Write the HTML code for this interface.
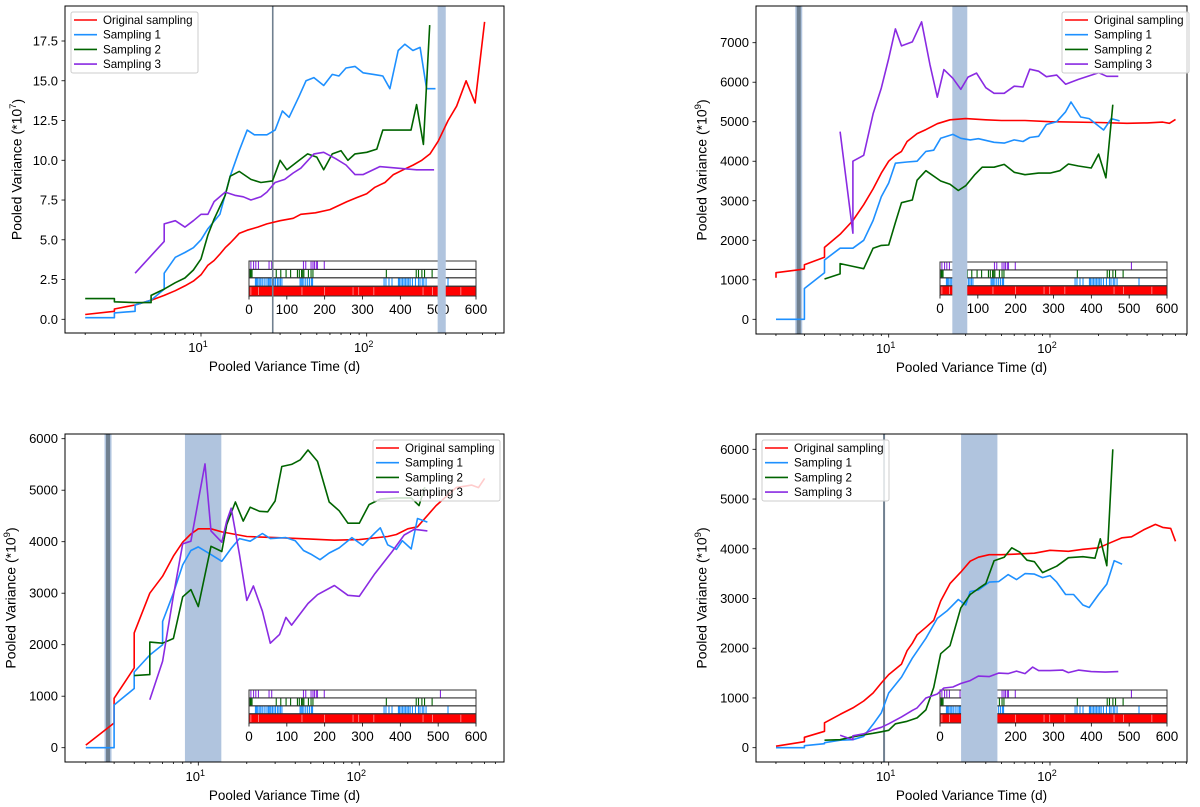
<!DOCTYPE html>
<html><head><meta charset="utf-8"><style>
html,body{margin:0;padding:0;background:#fff;}
svg{display:block;font-family:"Liberation Sans","DejaVu Sans",sans-serif;}
</style></head><body>
<svg id="fig" width="1200" height="807" viewBox="0 0 1200 807" xmlns="http://www.w3.org/2000/svg"></svg>
<script>
// ---- data (time in days, variance) ----
const p1Red=[[2,0.3],[3,0.5],[3,0.65],[4,0.9],[5,1.2],[6,1.5],[7,1.8],[8,2.1],[9,2.4],[10,2.8],[11,3.4],[12,3.7],[13,4.1],[14,4.5],[15,4.8],[16,5.1],[17,5.4],[19,5.6],[22,5.8],[25,6.0],[30,6.2],[36,6.35],[40,6.6],[49,6.7],[60,6.9],[76,7.4],[87,7.65],[100,7.9],[112,8.3],[129,8.6],[145,9.1],[166,9.4],[191,9.7],[215,10.0],[241,10.4],[270,11.2],[310,12.5],[349,13.4],[398,15.0],[451,13.6],[515,18.7]];
const p1Blue=[[2,0.1],[3,0.1],[3,0.4],[4,0.5],[4,0.9],[5,1.2],[6,1.9],[6,2.9],[7,3.9],[8,4.2],[9,4.5],[10,5.0],[11,5.7],[13,6.6],[15,9.0],[17,10.6],[19,11.9],[21,11.6],[25,11.6],[28,11.9],[31,13.1],[34,12.7],[39,14.0],[43,15.0],[48,15.2],[55,14.7],[62,15.4],[68,15.3],[75,15.8],[85,15.9],[95,15.5],[110,15.4],[125,15.3],[138,14.5],[155,16.9],[170,17.3],[190,16.9],[210,17.1],[230,14.5],[260,14.5]];
const p1Green=[[2,1.3],[3,1.3],[3,1.1],[4,1.05],[5,1.05],[5,1.5],[6,1.9],[7,2.3],[8,2.6],[9,3.1],[10,3.8],[11,5.3],[12,6.3],[14,7.8],[15,9.0],[17,9.3],[20,8.8],[23,8.6],[27,8.7],[30,10.0],[33,9.4],[38,9.9],[44,10.4],[50,10.2],[55,9.4],[62,10.4],[70,10.6],[77,10.0],[85,10.4],[100,10.5],[115,10.7],[125,11.9],[185,11.9],[200,13.5],[220,11.0],[240,18.5]];
const p1Purple=[[4,2.9],[6,4.9],[6,6.0],[7,6.2],[8,5.8],[9,6.2],[10,6.6],[11,6.6],[12,7.4],[14,8.0],[16,7.8],[18,7.7],[20,7.5],[23,7.7],[25,8.0],[28,8.6],[32,8.8],[36,9.2],[40,9.5],[48,10.4],[55,10.5],[65,10.1],[75,9.7],[85,9.1],[95,9.1],[120,9.6],[200,9.4],[255,9.4]];

const p2Red=[[2,1050],[2,1180],[3,1270],[3,1380],[4,1570],[4,1820],[5,2150],[6,2500],[7,2900],[8,3300],[9,3700],[10,4000],[11,4150],[12,4250],[13,4500],[15,4700],[17,4800],[20,4950],[24,5050],[30,5080],[40,5050],[50,5030],[70,5030],[100,5000],[200,4980],[300,4960],[400,4970],[500,4990],[550,4960],[600,5060]];
const p2Blue=[[2,0],[3,0],[3,780],[4,1180],[4,1500],[5,1800],[6,1800],[7,2000],[8,2500],[9,3100],[10,3450],[11,3950],[13,3980],[15,4000],[17,4250],[19,4280],[21,4580],[25,4680],[28,4580],[32,4540],[36,4570],[45,4480],[52,4460],[60,4540],[68,4500],[75,4600],[85,4630],[95,4930],[110,5000],[125,5250],[135,5500],[155,5120],[175,5080],[215,4790],[240,5080],[270,5020]];
const p2Green=[[4,1020],[5,1150],[5,1410],[6,1340],[7,1280],[8,1800],[9,1870],[10,1880],[11,2450],[12,2950],[14,3020],[15,3520],[17,3760],[21,3500],[24,3420],[27,3260],[30,3380],[34,3650],[38,3850],[45,3850],[52,3920],[60,3720],[70,3660],[85,3700],[100,3700],[115,3760],[130,3930],[150,3880],[180,3830],[200,4180],[222,3580],[245,5430]];
const p2Purple=[[5,4750],[6,2180],[6,4000],[7,4150],[8,5200],[9,5850],[10,6600],[11,7350],[12,6920],[14,7020],[16,7530],[18,6450],[20,5620],[22,6320],[25,6100],[28,5820],[31,6130],[35,6230],[40,5860],[45,5720],[52,5720],[60,5900],[68,5880],[75,6330],[85,6280],[95,6140],[110,6180],[125,5950],[150,6070],[200,6240],[225,6150],[265,6150]];

const p3Red=[[2,50],[3,480],[3,960],[4,1550],[4,2230],[5,3000],[6,3330],[7,3720],[8,3990],[9,4150],[10,4250],[12,4250],[14,4190],[20,4100],[30,4080],[50,4050],[70,4030],[100,4040],[150,4100],[170,4140],[200,4250],[230,4290],[300,4700],[400,5050],[500,5100],[550,5050],[600,5230]];
const p3Blue=[[2,0],[3,0],[3,830],[4,1150],[4,1470],[5,1800],[6,2000],[6,2450],[7,3000],[8,3550],[9,3830],[10,3900],[12,3750],[14,3620],[16,3870],[18,4060],[21,4010],[25,4160],[28,4060],[35,4080],[40,4020],[45,3830],[50,3760],[57,3650],[65,3780],[75,3880],[90,4080],[105,3930],[125,4170],[135,4270],[150,3940],[170,3850],[185,4020],[210,3860],[230,4450],[265,4380]];
const p3Green=[[4,1400],[5,1420],[5,2050],[6,2030],[7,2120],[8,2930],[9,3070],[10,2740],[12,3910],[14,3810],[15,4330],[17,4770],[19,4400],[21,4670],[24,4590],[27,4580],[30,4790],[33,5460],[38,5500],[43,5590],[48,5780],[55,5560],[65,4770],[75,4600],[85,4360],[100,4360],[115,4720],[135,4830],[170,4850],[210,4850],[235,4700],[255,5060]];
const p3Purple=[[5,930],[6,1680],[7,2950],[8,3960],[9,4010],[11,5510],[12,4210],[14,3990],[15,4400],[16,4650],[18,3760],[20,2860],[22,3140],[25,2650],[28,2030],[32,2200],[35,2530],[38,2380],[42,2560],[48,2800],[55,2970],[70,3150],[85,2960],[100,2940],[125,3380],[160,3810],[190,4130],[220,4240],[265,4210]];

const p4Red=[[2,30],[3,120],[3,210],[4,330],[4,500],[5,670],[6,800],[7,940],[8,1100],[9,1300],[10,1470],[11,1580],[12,1680],[13,1950],[14,2100],[15,2270],[17,2420],[19,2560],[21,2950],[24,3300],[28,3530],[32,3750],[36,3830],[42,3880],[50,3880],[60,3890],[80,3910],[100,3970],[130,3950],[160,3990],[200,4020],[240,4130],[280,4220],[320,4240],[380,4380],[450,4490],[500,4430],[560,4410],[600,4150]];
const p4Blue=[[2,0],[3,0],[3,40],[4,80],[4,100],[5,150],[6,160],[7,230],[8,470],[9,700],[10,1100],[12,1420],[14,1800],[17,2200],[20,2600],[23,2750],[27,2980],[30,2870],[32,3140],[36,3170],[42,3330],[48,3340],[55,3480],[62,3380],[70,3500],[80,3490],[90,3420],[100,3460],[110,3330],[125,3080],[140,3080],[160,2870],[175,2820],[200,3080],[225,3290],[250,3760],[280,3690]];
const p4Green=[[4,150],[5,160],[6,220],[7,260],[8,290],[9,320],[10,350],[11,480],[13,530],[15,600],[17,760],[19,1210],[21,1890],[24,2050],[28,2810],[32,3080],[36,3200],[40,3300],[45,3760],[52,3830],[58,4020],[65,3930],[72,3770],[80,3740],[90,3520],[110,3650],[130,3820],[160,3840],[190,3810],[205,4200],[225,3660],[245,6000]];
const p4Purple=[[5,250],[6,160],[6,240],[7,280],[8,360],[9,410],[10,480],[12,620],[14,750],[15,800],[17,1000],[20,1080],[22,1200],[25,1220],[28,1290],[32,1350],[36,1440],[42,1430],[48,1500],[55,1490],[62,1540],[70,1490],[78,1620],[85,1550],[100,1550],[120,1560],[130,1510],[150,1560],[180,1530],[220,1520],[265,1530]];

// inset sampling events (days)
const purpleEvents=[5,12,18,25,53,60,144,150,164,169,173,178,181,199,506];
const greenEvents=[3,5,8,72,84,98,110,128,133,139,142,145,157,164,169,363,442,448,457,464,484];
const blueEvents=[17,20,23,27,31,35,40,45,50,52,55,58,62,66,70,75,79,83,87,135,138,141,145,150,155,160,165,168,357,362,370,378,395,398,402,406,410,414,418,422,426,432,440,448,452,458,462,468,526];
const redGaps=[5,25,140,200,275,290,330,460,485,560];
const insetTicks=[0,100,200,300,400,500,600];

const p1YTicks=[0,2.5,5,7.5,10,12.5,15,17.5];
const p2YTicks=[0,1000,2000,3000,4000,5000,6000,7000];
const p3YTicks=[0,1000,2000,3000,4000,5000,6000];
const p4YTicks=[0,1000,2000,3000,4000,5000,6000];

const p1Markers={line:27.1,band:[268,300]};
const p2Markers={line:2.77,band:[24.8,30.7]};
const p3Markers={line:2.75,band:[8.26,13.9]};
const p4Markers={line:9.36,band:[28.1,47.2]};

const legendLabels=['Original sampling','Sampling 1','Sampling 2','Sampling 3'];
const colors=['#ff0000','#1e90ff','#006400','#8a2be2'];

const panels=[
 {id:1,L:65,R:504,T:6,B:333,x10:201,dec:165.7,y0:319.3,yTopPx:41,yTopVal:17.5,ticks:p1YTicks,dec1:true,exp:'7',ylx:18,inset:{x0:249,x1:476,top:261,bot:296},mk:p1Markers,lw:1.6,leg:{x:71,y:12},series:[p1Red,p1Blue,p1Green,p1Purple]},
 {id:2,L:756,R:1187,T:6,B:334,x10:888.7,dec:161.3,y0:319.3,yTopPx:42.7,yTopVal:7000,ticks:p2YTicks,dec1:false,exp:'9',ylx:703,inset:{x0:940,x1:1167,top:262,bot:295},mk:p2Markers,lw:4,leg:{x:1062,y:12},series:[p2Red,p2Blue,p2Green,p2Purple]},
 {id:3,L:65,R:504,T:434,B:762,x10:198.3,dec:161,y0:747.7,yTopPx:438.7,yTopVal:6000,ticks:p3YTicks,dec1:false,exp:'9',ylx:12,inset:{x0:249,x1:476,top:690,bot:723},mk:p3Markers,lw:4,leg:{x:373,y:440},series:[p3Red,p3Blue,p3Green,p3Purple]},
 {id:4,L:756,R:1187,T:434,B:762,x10:888.7,dec:161.3,y0:747.7,yTopPx:449.3,yTopVal:6000,ticks:p4YTicks,dec1:false,exp:'9',ylx:703,inset:{x0:940,x1:1167,top:690,bot:723},mk:p4Markers,lw:2,leg:{x:762,y:440},series:[p4Red,p4Blue,p4Green,p4Purple]}
];

const NS='http://www.w3.org/2000/svg';
const svg=document.getElementById('fig');
function el(tag,attrs,parent){const e=document.createElementNS(NS,tag);for(const k in attrs)e.setAttribute(k,attrs[k]);(parent||svg).appendChild(e);return e;}
function xs(p,t){return p.x10+p.dec*(Math.log10(t)-1);}
function ys(p,v){return p.y0-(p.y0-p.yTopPx)*v/p.yTopVal;}

const defs=el('defs',{});
panels.forEach(p=>{
 const g=el('g',{});
 
 
 const cp=el('clipPath',{id:'clip'+p.id},defs);
 el('rect',{x:p.L,y:p.T,width:p.R-p.L,height:p.B-p.T},cp);
 // inset (drawn first, behind markers)
 const ins=p.inset;const ig=el('g',{},g);
 
 
 const ix=d=>ins.x0+(ins.x1-ins.x0)*d/600;
 const h=ins.bot-ins.top;const rh=[0,h*0.24,h*0.48,h*0.72,h];
 el('rect',{x:ins.x0,y:ins.top,width:ins.x1-ins.x0,height:h,fill:'#fff'},ig);
 const rowEv=[purpleEvents,greenEvents,blueEvents];
 const rowCol=[colors[3],colors[2],colors[1]];
 rowEv.forEach((ev,r)=>{ev.forEach(d=>{const x=ix(d);
  const ln=el('line',{x1:x,x2:x,y1:ins.top+rh[r],y2:ins.top+rh[r+1],stroke:rowCol[r],'stroke-width':1.1},ig);
  
  });});
 const rr=el('rect',{x:ins.x0,y:ins.top+rh[3],width:ins.x1-ins.x0,height:h-rh[3],fill:'#ff0000'},ig);
 
 
 redGaps.forEach(d=>{const x=ix(d);el('line',{x1:x,x2:x,y1:ins.top+rh[3]+1,y2:ins.bot-1,stroke:'#ffb0b0','stroke-width':0.7},ig);});
 for(let r=0;r<4;r++)el('rect',{x:ins.x0,y:ins.top+rh[r],width:ins.x1-ins.x0,height:rh[r+1]-rh[r],fill:'none',stroke:'#333','stroke-width':1},ig);
 insetTicks.forEach(d=>{const x=ix(d);el('line',{x1:x,x2:x,y1:ins.bot,y2:ins.bot+3.5,stroke:'#000','stroke-width':0.8},ig);
  const tt=el('text',{x:x,y:ins.bot+18,'text-anchor':'middle','font-size':13.5},ig);
  
  
  tt.textContent=String(d);});

 const plot=el('g',{'clip-path':'url(#clip'+p.id+')'},g);
 
 
 const b0=xs(p,p.mk.band[0]),b1=xs(p,p.mk.band[1]);
 const band=el('rect',{x:b0,y:p.T,width:b1-b0,height:p.B-p.T,fill:'#b0c4de'},plot);
 
 
 const lx=xs(p,p.mk.line);
 if(p.lw>2){const halo=el('rect',{x:lx-p.lw/2-1.5,y:p.T,width:p.lw+3,height:p.B-p.T,fill:'#b0c4de'},plot);
  
  }
 const vl=el('line',{x1:lx,x2:lx,y1:p.T,y2:p.B,stroke:'#708090','stroke-width':p.lw},plot);
 
 
 p.series.forEach((s,i)=>{
  const d=s.map((pt,j)=>(j?'L':'M')+xs(p,pt[0]).toFixed(1)+' '+ys(p,pt[1]).toFixed(1)).join(' ');
  const path=el('path',{d:d,fill:'none',stroke:colors[i],'stroke-width':1.6,'stroke-linejoin':'round'},plot);
  
  
 });
 const fr=el('rect',{x:p.L,y:p.T,width:p.R-p.L,height:p.B-p.T,fill:'none',stroke:'#000','stroke-width':1},g);
 
 
 p.ticks.forEach(v=>{
  const y=ys(p,v);
  el('line',{x1:p.L-3.5,x2:p.L,y1:y,y2:y,stroke:'#000','stroke-width':0.8},g);
  const t=el('text',{x:p.L-7,y:y+4.5,'text-anchor':'end','font-size':13},g);
  
  
  t.textContent=p.dec1?v.toFixed(1):String(v);
 });
 for(let k=0;k<=2;k++){for(let m=1;m<10;m++){const t=m*Math.pow(10,k);const x=xs(p,t);if(x<p.L||x>p.R)continue;
  const major=(m===1);
  el('line',{x1:x,x2:x,y1:p.B,y2:p.B+(major?3.5:2),stroke:'#000','stroke-width':0.8},g);
  if(major){const tl=el('text',{x:x-3,y:p.B+19,'text-anchor':'middle','font-size':13},g);
   
   
   tl.textContent='10';const sp=el('tspan',{dy:-5,'font-size':9},tl);sp.textContent=String(k);}
 }}
 const xl=el('text',{x:(p.L+p.R)/2,y:p.B+38,'text-anchor':'middle','font-size':13.5},g);
 
 
 xl.textContent='Pooled Variance Time (d)';
 const cy=(p.T+p.B)/2;
 const yl=el('text',{x:p.ylx,y:cy,'text-anchor':'middle','font-size':14,transform:'rotate(-90 '+p.ylx+' '+cy+')','dominant-baseline':'middle'},g);
 
 
 yl.appendChild(document.createTextNode('Pooled Variance (*10'));
 const ex=el('tspan',{dy:-5,'font-size':9.5},yl);ex.textContent=p.exp;
 const cl=el('tspan',{dy:5},yl);cl.textContent=')';
 const lg=el('g',{},g);
 
 
 el('rect',{x:p.leg.x,y:p.leg.y,width:127,height:61,rx:2,fill:'#fff','fill-opacity':0.8,stroke:'#cccccc','stroke-width':1},lg);
 legendLabels.forEach((lab,i)=>{const yy=p.leg.y+8+i*14.7;
  const e=el('g',{},lg);
  
  
  el('line',{x1:p.leg.x+3,x2:p.leg.x+26,y1:yy,y2:yy,stroke:colors[i],'stroke-width':1.6},e);
  const tx=el('text',{x:p.leg.x+32,y:yy+4,'font-size':11.6},e);tx.textContent=lab;});
});
</script>
</body></html>
